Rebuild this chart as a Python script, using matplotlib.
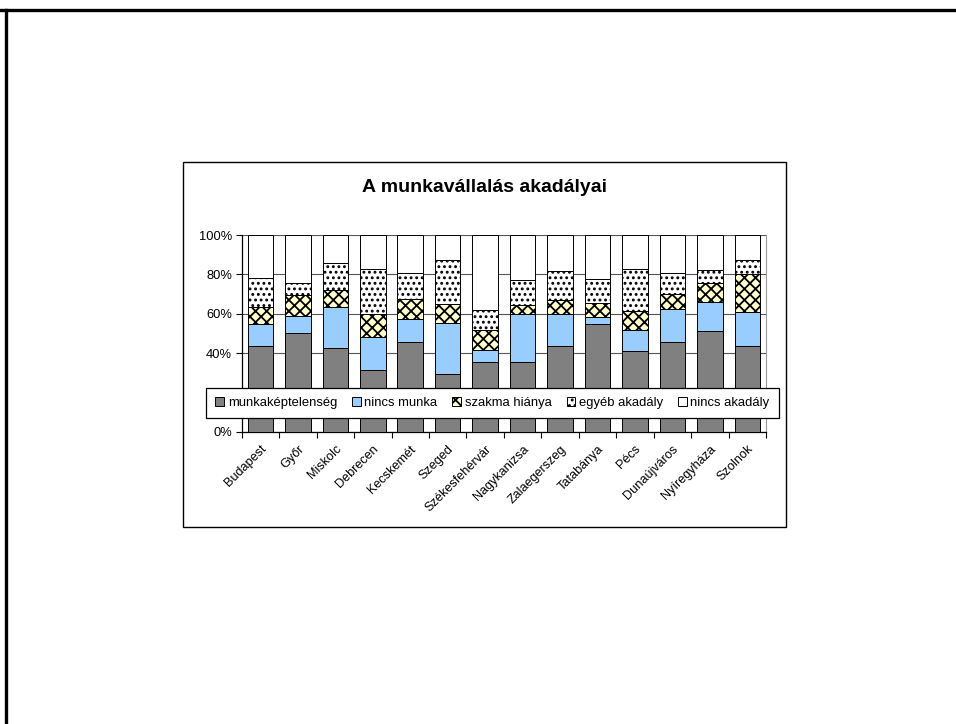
import matplotlib
matplotlib.use("Agg")
import matplotlib.pyplot as plt
from matplotlib.patches import Rectangle
from matplotlib.lines import Line2D
from matplotlib.ticker import FixedLocator, PercentFormatter

plt.rcParams['font.family'] = ['Liberation Sans', 'DejaVu Sans']
plt.rcParams['hatch.linewidth'] = 1.3

cities = ["Budapest", "Győr", "Miskolc", "Debrecen", "Kecskemét", "Szeged",
          "Székesfehérvár", "Nagykanizsa", "Zalaegerszeg", "Tatabánya", "Pécs",
          "Dunaújváros", "Nyíregyháza", "Szolnok"]

# shares in percent
munkakeptelenseg = [43.6, 50.2, 42.7, 31.4, 45.6, 29.3, 35.3, 35.3, 43.6, 54.9, 41.0, 45.9, 51.2, 43.9]
nincs_munka = [11.0, 8.8, 21.0, 16.7, 12.0, 26.0, 6.4, 24.7, 16.1, 3.6, 11.0, 16.3, 14.6, 16.8]
szakma_hianya = [8.6, 10.7, 8.3, 11.7, 9.9, 9.8, 10.0, 4.4, 7.2, 7.1, 9.5, 7.8, 9.6, 19.3]
egyeb_akadaly = [14.9, 5.9, 13.6, 22.7, 13.0, 22.4, 10.3, 12.7, 14.8, 11.9, 21.2, 10.5, 6.8, 7.3]
nincs_akadaly = [21.9, 24.4, 14.4, 17.5, 19.5, 12.5, 38.0, 22.9, 18.3, 22.5, 17.3, 19.5, 17.8, 12.7]

series = [
    ("munkaképtelenség", munkakeptelenseg, dict(facecolor="#808080", hatch=None)),
    ("nincs munka", nincs_munka, dict(facecolor="#99CCFF", hatch=None)),
    ("szakma hiánya", szakma_hianya, dict(facecolor="#FFFFCC", hatch="xxx")),
    ("egyéb akadály", egyeb_akadaly, dict(facecolor="white", hatch="...")),
    ("nincs akadály", nincs_akadaly, dict(facecolor="white", hatch=None)),
]

fig = plt.figure(figsize=(9.56, 7.24), dpi=100)
W, H = 956, 724


def fx(px):
    return px / W


def fy(py):
    return 1 - py / H


# slide border (top and left)
fig.add_artist(Line2D([0, 1], [fy(9.5), fy(9.5)], color="black", lw=2.4))
fig.add_artist(Line2D([fx(5.5), fx(5.5)], [fy(9.5), 0], color="black", lw=2.4))

# chart frame
fig.add_artist(Rectangle((fx(182.5), fy(527)), fx(786) - fx(182.5), fy(162) - fy(527),
                         facecolor="white", edgecolor="black", lw=1.0, zorder=0))

ax = fig.add_axes([fx(241.7), fy(432), fx(766) - fx(241.7), fy(235) - fy(432)])

x = list(range(len(cities)))
bottom = [0.0] * len(cities)
for name, vals, style in series:
    ax.bar(x, vals, 0.68, bottom=bottom, label=name, facecolor=style["facecolor"],
           hatch=style["hatch"], edgecolor="black", linewidth=0.7, zorder=3)
    bottom = [b + v for b, v in zip(bottom, vals)]

ax.set_xlim(-0.5, len(cities) - 0.5)
ax.set_ylim(0, 100)
ax.yaxis.set_major_locator(FixedLocator([0, 20, 40, 60, 80, 100]))
ax.yaxis.set_major_formatter(PercentFormatter(decimals=0))
ax.grid(axis="y", color="#555555", lw=0.8, zorder=0)

ax.set_xticks(x)
ax.set_xticklabels(cities, rotation=45, ha="right", va="top", rotation_mode="anchor", fontsize=9.1)
ax.tick_params(axis="x", length=0, pad=8)
ax.set_xticks([i + 0.5 for i in range(-1, len(cities))], minor=True)
ax.tick_params(axis="x", which="minor", length=4, width=0.8, direction="out")
ax.tick_params(axis="y", labelsize=9.3, length=4, width=0.8, pad=3)

ax.spines["top"].set_visible(False)
ax.spines["right"].set_color("#999999")
ax.spines["left"].set_linewidth(0.9)
ax.spines["bottom"].set_linewidth(0.9)

fig.text(fx(484), fy(187), "A munkavállalás akadályai", ha="center", va="center",
         fontsize=14, fontweight="bold")

leg = ax.legend(loc="center", ncol=5, mode="expand",
                bbox_to_anchor=(fx(206), fy(418), fx(779) - fx(206), fy(388) - fy(418)),
                bbox_transform=fig.transFigure, fontsize=9.4, frameon=True, fancybox=False,
                edgecolor="black", framealpha=1, handlelength=0.65, handleheight=0.65,
                handletextpad=0.3, columnspacing=0.6, borderpad=0.72, borderaxespad=0)
leg.get_frame().set_linewidth(0.9)
leg.set_zorder(10)

fig.savefig("out.png", dpi=100)
